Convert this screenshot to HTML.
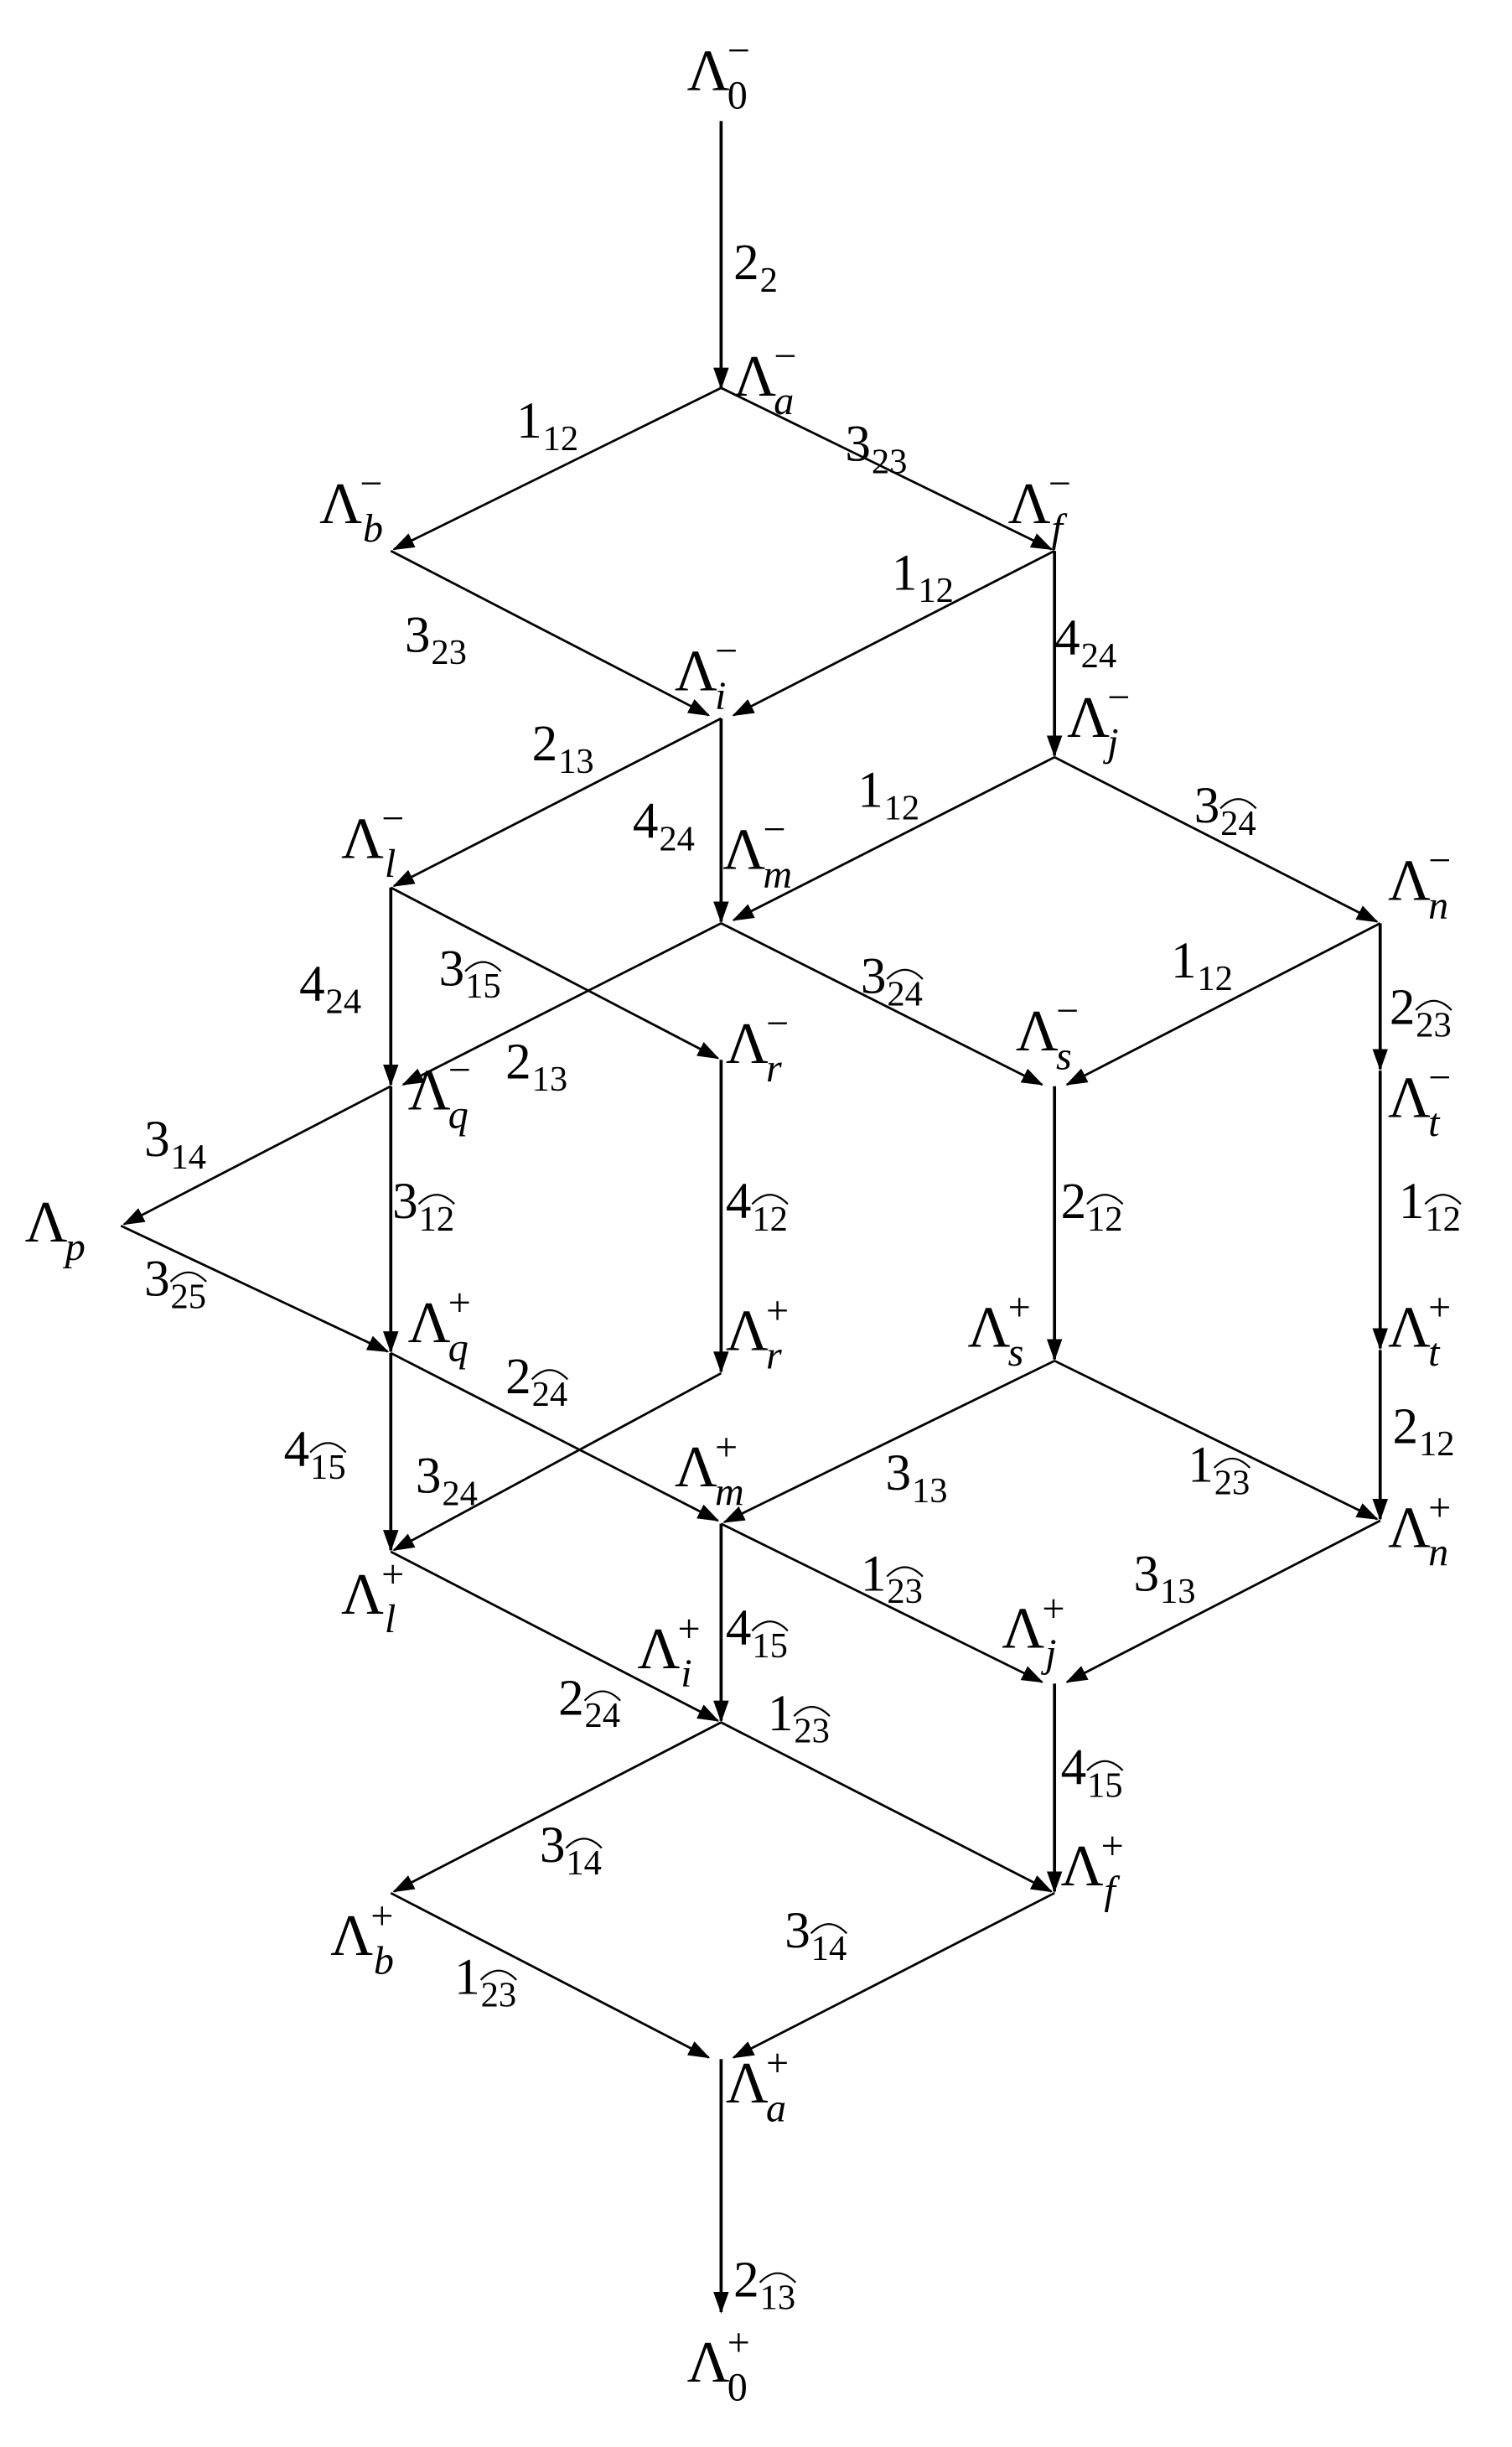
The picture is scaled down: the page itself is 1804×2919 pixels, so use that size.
<!DOCTYPE html>
<html><head><meta charset="utf-8"><style>
html,body{margin:0;padding:0;background:#fff}
svg{display:block}
text{font-family:"Liberation Serif",serif;fill:#000}
.L{font-size:38px}
.s{font-size:26px}
.i{font-style:italic}
.d{font-size:33px}
.t{font-size:23px}
line{stroke:#000;stroke-width:1.5}
.v{stroke-width:2}
.h{fill:none;stroke:#000;stroke-width:1.2}
</style></head><body>
<svg width="1804" height="2919" viewBox="0 0 975 1577" preserveAspectRatio="none" xmlns="http://www.w3.org/2000/svg">
<defs><marker id="a" markerWidth="14" markerHeight="10" refX="13" refY="5" orient="auto" markerUnits="userSpaceOnUse"><path d="M0,0 L14,5 L0,10 z" fill="#000"/></marker></defs>
<g marker-end="url(#a)">
<line class="v" x1="465" y1="78" x2="465" y2="250"/>
<line x1="465" y1="250" x2="254" y2="354"/>
<line x1="465" y1="250" x2="678" y2="354"/>
<line x1="252" y1="355" x2="457" y2="461"/>
<line x1="680" y1="355" x2="473" y2="461"/>
<line class="v" x1="680" y1="355" x2="680" y2="487"/>
<line x1="465" y1="463" x2="254" y2="571"/>
<line class="v" x1="465" y1="463" x2="465" y2="594"/>
<line x1="680" y1="488" x2="473" y2="593"/>
<line x1="680" y1="488" x2="888" y2="594"/>
<line class="v" x1="252" y1="572" x2="252" y2="699"/>
<line x1="252" y1="572" x2="463" y2="682"/>
<line x1="465" y1="595" x2="260" y2="699"/>
<line x1="465" y1="595" x2="672" y2="699"/>
<line x1="890" y1="595" x2="688" y2="699"/>
<line class="v" x1="890" y1="595" x2="890" y2="689"/>
<line x1="252" y1="700" x2="80" y2="789"/>
<line class="v" x1="252" y1="700" x2="252" y2="871"/>
<line class="v" x1="465" y1="683" x2="465" y2="884"/>
<line class="v" x1="680" y1="700" x2="680" y2="876"/>
<line class="v" x1="890" y1="690" x2="890" y2="869"/>
<line x1="78" y1="790" x2="250" y2="871"/>
<line class="v" x1="252" y1="872" x2="252" y2="999"/>
<line x1="465" y1="885" x2="254" y2="999"/>
<line x1="252" y1="872" x2="463" y2="980"/>
<line x1="680" y1="877" x2="467" y2="981"/>
<line x1="680" y1="877" x2="888" y2="979"/>
<line class="v" x1="890" y1="870" x2="890" y2="979"/>
<line x1="465" y1="982" x2="672" y2="1084"/>
<line x1="890" y1="980" x2="688" y2="1084"/>
<line class="v" x1="465" y1="982" x2="465" y2="1109"/>
<line x1="252" y1="1000" x2="463" y2="1109"/>
<line x1="465" y1="1110" x2="254" y2="1219"/>
<line x1="465" y1="1110" x2="678" y2="1219"/>
<line class="v" x1="680" y1="1085" x2="680" y2="1219"/>
<line x1="252" y1="1220" x2="457" y2="1326"/>
<line x1="680" y1="1220" x2="473" y2="1326"/>
<line class="v" x1="465" y1="1327" x2="465" y2="1490"/>
</g>
<g>
<text class="L" x="443" y="58">Λ</text><text class="s" x="469" y="41">−</text><text class="s" x="469" y="70">0</text>
<text class="L" x="473" y="255">Λ</text><text class="s" x="499" y="238">−</text><text class="s i" x="499" y="267">a</text>
<text class="L" x="206" y="337">Λ</text><text class="s" x="232" y="320">−</text><text class="s i" x="234" y="349">b</text>
<text class="L" x="650" y="337">Λ</text><text class="s" x="676" y="320">−</text><text class="s i" x="678" y="349">f</text>
<text class="L" x="435" y="445">Λ</text><text class="s" x="461" y="428">−</text><text class="s i" x="461" y="457">i</text>
<text class="L" x="688" y="475">Λ</text><text class="s" x="714" y="458">−</text><text class="s i" x="714" y="487">j</text>
<text class="L" x="220" y="553">Λ</text><text class="s" x="246" y="536">−</text><text class="s i" x="248" y="565">l</text>
<text class="L" x="466" y="560">Λ</text><text class="s" x="492" y="543">−</text><text class="s i" x="492" y="572">m</text>
<text class="L" x="895" y="580">Λ</text><text class="s" x="921" y="563">−</text><text class="s i" x="921" y="592">n</text>
<text class="L" x="468" y="685">Λ</text><text class="s" x="494" y="668">−</text><text class="s i" x="494" y="697">r</text>
<text class="L" x="263" y="715">Λ</text><text class="s" x="289" y="698">−</text><text class="s i" x="289" y="727">q</text>
<text class="L" x="655" y="677">Λ</text><text class="s" x="681" y="660">−</text><text class="s i" x="681" y="689">s</text>
<text class="L" x="895" y="720">Λ</text><text class="s" x="921" y="703">−</text><text class="s i" x="921" y="732">t</text>
<text class="L" x="16" y="800">Λ</text><text class="s i" x="42" y="812">p</text>
<text class="L" x="263" y="865">Λ</text><text class="s" x="289" y="848">+</text><text class="s i" x="289" y="877">q</text>
<text class="L" x="468" y="870">Λ</text><text class="s" x="494" y="853">+</text><text class="s i" x="494" y="882">r</text>
<text class="L" x="624" y="868">Λ</text><text class="s" x="650" y="851">+</text><text class="s i" x="650" y="880">s</text>
<text class="L" x="895" y="868">Λ</text><text class="s" x="921" y="851">+</text><text class="s i" x="921" y="880">t</text>
<text class="L" x="435" y="958">Λ</text><text class="s" x="461" y="941">+</text><text class="s i" x="461" y="970">m</text>
<text class="L" x="895" y="997">Λ</text><text class="s" x="921" y="980">+</text><text class="s i" x="921" y="1009">n</text>
<text class="L" x="220" y="1040">Λ</text><text class="s" x="246" y="1023">+</text><text class="s i" x="248" y="1052">l</text>
<text class="L" x="646" y="1062">Λ</text><text class="s" x="672" y="1045">+</text><text class="s i" x="674" y="1074">j</text>
<text class="L" x="411" y="1075">Λ</text><text class="s" x="437" y="1058">+</text><text class="s i" x="439" y="1087">i</text>
<text class="L" x="684" y="1215">Λ</text><text class="s" x="710" y="1198">+</text><text class="s i" x="712" y="1227">f</text>
<text class="L" x="213" y="1260">Λ</text><text class="s" x="239" y="1243">+</text><text class="s i" x="241" y="1272">b</text>
<text class="L" x="468" y="1355">Λ</text><text class="s" x="494" y="1338">+</text><text class="s i" x="494" y="1367">a</text>
<text class="L" x="443" y="1535">Λ</text><text class="s" x="469" y="1518">+</text><text class="s" x="469" y="1547">0</text>
</g>
<g>
<g transform="translate(473,180)"><text class="d">2</text><text class="t" x="17" y="8">2</text></g>
<g transform="translate(333,282)"><text class="d">1</text><text class="t" x="17" y="8">12</text></g>
<g transform="translate(545,297)"><text class="d">3</text><text class="t" x="17" y="8">23</text></g>
<g transform="translate(261,420)"><text class="d">3</text><text class="t" x="17" y="8">23</text></g>
<g transform="translate(575,380)"><text class="d">1</text><text class="t" x="17" y="8">12</text></g>
<g transform="translate(680,422)"><text class="d">4</text><text class="t" x="17" y="8">24</text></g>
<g transform="translate(343,490)"><text class="d">2</text><text class="t" x="17" y="8">13</text></g>
<g transform="translate(408,540)"><text class="d">4</text><text class="t" x="17" y="8">24</text></g>
<g transform="translate(553,520)"><text class="d">1</text><text class="t" x="17" y="8">12</text></g>
<g transform="translate(770,530)"><text class="d">3</text><text class="t" x="17" y="8">24</text><path class="h" d="M17,-9 Q28.5,-21 40,-9"/></g>
<g transform="translate(193,645)"><text class="d">4</text><text class="t" x="17" y="8">24</text></g>
<g transform="translate(283,635)"><text class="d">3</text><text class="t" x="17" y="8">15</text><path class="h" d="M17,-9 Q28.5,-21 40,-9"/></g>
<g transform="translate(326,695)"><text class="d">2</text><text class="t" x="17" y="8">13</text></g>
<g transform="translate(555,640)"><text class="d">3</text><text class="t" x="17" y="8">24</text><path class="h" d="M17,-9 Q28.5,-21 40,-9"/></g>
<g transform="translate(755,630)"><text class="d">1</text><text class="t" x="17" y="8">12</text></g>
<g transform="translate(896,660)"><text class="d">2</text><text class="t" x="17" y="8">23</text><path class="h" d="M17,-9 Q28.5,-21 40,-9"/></g>
<g transform="translate(93,745)"><text class="d">3</text><text class="t" x="17" y="8">14</text></g>
<g transform="translate(253,785)"><text class="d">3</text><text class="t" x="17" y="8">12</text><path class="h" d="M17,-9 Q28.5,-21 40,-9"/></g>
<g transform="translate(468,785)"><text class="d">4</text><text class="t" x="17" y="8">12</text><path class="h" d="M17,-9 Q28.5,-21 40,-9"/></g>
<g transform="translate(684,785)"><text class="d">2</text><text class="t" x="17" y="8">12</text><path class="h" d="M17,-9 Q28.5,-21 40,-9"/></g>
<g transform="translate(902,785)"><text class="d">1</text><text class="t" x="17" y="8">12</text><path class="h" d="M17,-9 Q28.5,-21 40,-9"/></g>
<g transform="translate(93,835)"><text class="d">3</text><text class="t" x="17" y="8">25</text><path class="h" d="M17,-9 Q28.5,-21 40,-9"/></g>
<g transform="translate(326,898)"><text class="d">2</text><text class="t" x="17" y="8">24</text><path class="h" d="M17,-9 Q28.5,-21 40,-9"/></g>
<g transform="translate(183,945)"><text class="d">4</text><text class="t" x="17" y="8">15</text><path class="h" d="M17,-9 Q28.5,-21 40,-9"/></g>
<g transform="translate(268,962)"><text class="d">3</text><text class="t" x="17" y="8">24</text></g>
<g transform="translate(571,960)"><text class="d">3</text><text class="t" x="17" y="8">13</text></g>
<g transform="translate(766,955)"><text class="d">1</text><text class="t" x="17" y="8">23</text><path class="h" d="M17,-9 Q28.5,-21 40,-9"/></g>
<g transform="translate(898,930)"><text class="d">2</text><text class="t" x="17" y="8">12</text></g>
<g transform="translate(555,1025)"><text class="d">1</text><text class="t" x="17" y="8">23</text><path class="h" d="M17,-9 Q28.5,-21 40,-9"/></g>
<g transform="translate(731,1025)"><text class="d">3</text><text class="t" x="17" y="8">13</text></g>
<g transform="translate(468,1060)"><text class="d">4</text><text class="t" x="17" y="8">15</text><path class="h" d="M17,-9 Q28.5,-21 40,-9"/></g>
<g transform="translate(360,1105)"><text class="d">2</text><text class="t" x="17" y="8">24</text><path class="h" d="M17,-9 Q28.5,-21 40,-9"/></g>
<g transform="translate(495,1115)"><text class="d">1</text><text class="t" x="17" y="8">23</text><path class="h" d="M17,-9 Q28.5,-21 40,-9"/></g>
<g transform="translate(684,1150)"><text class="d">4</text><text class="t" x="17" y="8">15</text><path class="h" d="M17,-9 Q28.5,-21 40,-9"/></g>
<g transform="translate(348,1200)"><text class="d">3</text><text class="t" x="17" y="8">14</text><path class="h" d="M17,-9 Q28.5,-21 40,-9"/></g>
<g transform="translate(506,1255)"><text class="d">3</text><text class="t" x="17" y="8">14</text><path class="h" d="M17,-9 Q28.5,-21 40,-9"/></g>
<g transform="translate(293,1285)"><text class="d">1</text><text class="t" x="17" y="8">23</text><path class="h" d="M17,-9 Q28.5,-21 40,-9"/></g>
<g transform="translate(473,1480)"><text class="d">2</text><text class="t" x="17" y="8">13</text><path class="h" d="M17,-9 Q28.5,-21 40,-9"/></g>
</g>
</svg>
</body></html>
